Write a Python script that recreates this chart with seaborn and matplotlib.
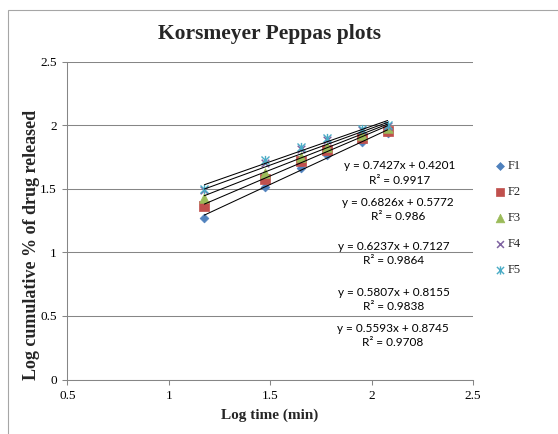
import numpy as np
import matplotlib
matplotlib.use("Agg")
import matplotlib.pyplot as plt
from matplotlib.path import Path
from matplotlib.patches import Rectangle
import seaborn as sns

# Release data: log10 of sampling time (15, 30, 45, 60, 90, 120 min)
log_time = [1.176, 1.477, 1.653, 1.778, 1.954, 2.079]
formulations = ["F1", "F2", "F3", "F4", "F5"]
f1 = [1.273, 1.512, 1.667, 1.766, 1.866, 1.937]
f2 = [1.362, 1.577, 1.716, 1.808, 1.896, 1.955]
f3 = [1.426, 1.627, 1.753, 1.832, 1.924, 1.976]
f4 = [1.488, 1.703, 1.815, 1.882, 1.961, 1.997]
f5 = [1.502, 1.725, 1.830, 1.900, 1.974, 2.002]
series_values = [f1, f2, f3, f4, f5]

# Linear trendlines (Korsmeyer-Peppas fits)
slopes = [0.7427, 0.6826, 0.6237, 0.5807, 0.5593]
intercepts = [0.4201, 0.5772, 0.7127, 0.8155, 0.8745]
r_squared = ["0.9917", "0.986", "0.9864", "0.9838", "0.9708"]

x_ticks = [0.5, 1, 1.5, 2, 2.5]
y_ticks = [0, 0.5, 1, 1.5, 2, 2.5]

W, H = 558, 434
GRID = "#868686"

sns.set_theme(style="white")
plt.rcParams["font.family"] = ["Liberation Serif", "DejaVu Serif"]

fig = plt.figure(figsize=(W / 100, H / 100), dpi=100)
fig.patch.set_facecolor("white")


def px(x, y):
    """Pixel position (from top-left) to figure fraction."""
    return x / W, 1 - y / H


left, right, top, bottom = 67.3, 473.0, 61.7, 379.5
ax = fig.add_axes([left / W, 1 - bottom / H, (right - left) / W, (bottom - top) / H])

# six-spoke star: an x with a vertical bar
star = Path([(-1, -1), (1, 1), (-1, 1), (1, -1), (0, -1.15), (0, 1.15)],
            [Path.MOVETO, Path.LINETO, Path.MOVETO, Path.LINETO, Path.MOVETO, Path.LINETO])

colors = ["#4F81BD", "#C0504D", "#9BBB59", "#8064A2", "#4BACC6"]
markers = ["D", "s", "^", "x", star]
sizes = [20, 42, 48, 30, 44]
widths = [0.5, 0.5, 0.5, 1.1, 1.0]

for name, vals, c, m, s, lw in zip(formulations, series_values, colors, markers, sizes, widths):
    sns.scatterplot(x=log_time, y=vals, marker=m, s=s, color=c, edgecolor=c,
                    linewidth=lw, label=name, ax=ax, zorder=3)

# trendlines across the sampled range
x_ends = np.array([log_time[0], log_time[-1]])
for k, b in zip(slopes, intercepts):
    sns.lineplot(x=x_ends, y=k * x_ends + b, color="black", linewidth=0.75,
                 ax=ax, zorder=4, legend=False)

ax.set_xlim(0.5, 2.5)
ax.set_ylim(0, 2.5)
ax.set_xticks(x_ticks)
ax.set_xticklabels([f"{v:g}" for v in x_ticks])
ax.set_yticks(y_ticks)
ax.set_yticklabels([f"{v:g}" for v in y_ticks])
ax.tick_params(bottom=True, left=True, direction="out", length=3.5, width=0.75,
               color=GRID, labelsize=9.5, labelcolor="black", pad=4)
ax.set_xlabel("")
ax.set_ylabel("")

for side in ["top", "right"]:
    ax.spines[side].set_visible(False)
for side in ["left", "bottom"]:
    ax.spines[side].set_color(GRID)
    ax.spines[side].set_linewidth(0.75)

ax.yaxis.grid(True, color=GRID, linewidth=0.75)
ax.xaxis.grid(False)
ax.set_axisbelow(True)

leg = ax.legend(loc="center left", bbox_to_anchor=px(494, 218), bbox_transform=fig.transFigure,
                frameon=False, fontsize=9, handlelength=0.9, handletextpad=0.2,
                labelspacing=1.12, borderpad=0, borderaxespad=0, markerscale=0.9)

# trendline equations
label_pos = [(400, 165, 180), (398, 203, 217), (394, 246, 261), (394, 292, 306), (393, 329, 343)]
for k, b, r2, (cx, ye, yr) in zip(slopes, intercepts, r_squared, label_pos):
    fig.text(*px(cx, ye), f"y = {k:.4f}x + {b:.4f}", ha="center", va="center",
             family="Lato", fontsize=8.5, color="black")
    fig.text(*px(cx, yr), f"R² = {r2}", ha="center", va="center",
             family="Lato", fontsize=8.5, color="black")

fig.text(*px(270, 34), "Korsmeyer Peppas plots", ha="center", va="center",
         fontsize=15.5, fontweight="bold")
fig.text(*px(270, 415.5), "Log time (min)", ha="center", va="center",
         fontsize=11, fontweight="bold")
fig.text(*px(32, 245), "Log cumulative % of drug released", ha="center", va="center",
         rotation=90, fontsize=13, fontweight="bold")

# chart area border
x0, y0 = px(8, 10)
fig.add_artist(Rectangle((x0, -0.1), 1.2, y0 + 0.1, transform=fig.transFigure,
                         fill=False, edgecolor="#a6a6a6", linewidth=0.8))

fig.savefig("out.png", dpi=100)
